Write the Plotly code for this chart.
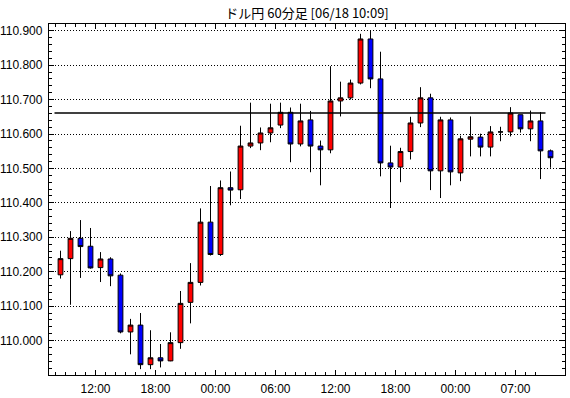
import plotly.graph_objects as go

title_text = "ドル円 60分足 [06/18 10:09]"

times = (["%02d:00" % h for h in range(8, 24)] +
         ["%02d:00" % h for h in range(0, 24)] +
         ["%02d:00" % h for h in range(0, 6)] +
         ["%02d:00" % h for h in range(7, 11)])

opens = [110.191, 110.238, 110.297, 110.274, 110.212, 110.237, 110.190, 110.025, 110.045, 109.930,
         109.950, 109.941, 109.994, 110.111, 110.169, 110.344, 110.250, 110.444, 110.438, 110.565,
         110.574, 110.603, 110.626, 110.663, 110.571, 110.641, 110.565, 110.554, 110.696, 110.705,
         110.748, 110.876, 110.760, 110.516, 110.504, 110.549, 110.632, 110.705, 110.493, 110.641,
         110.487, 110.585, 110.591, 110.562, 110.606, 110.606, 110.656, 110.615, 110.638, 110.551]
highs = [110.261, 110.318, 110.350, 110.327, 110.257, 110.242, 110.195, 110.063, 110.080, 110.030,
         109.990, 110.024, 110.144, 110.225, 110.384, 110.449, 110.465, 110.491, 110.624, 110.691,
         110.619, 110.688, 110.691, 110.677, 110.688, 110.667, 110.581, 110.797, 110.752, 110.758,
         110.891, 110.900, 110.839, 110.566, 110.560, 110.650, 110.736, 110.717, 110.650, 110.648,
         110.595, 110.651, 110.601, 110.623, 110.621, 110.678, 110.656, 110.668, 110.664, 110.555]
lows = [110.180, 110.104, 110.182, 110.209, 110.170, 110.158, 110.021, 109.960, 109.917, 109.917,
        109.922, 109.940, 109.976, 110.050, 110.160, 110.247, 110.246, 110.393, 110.411, 110.559,
        110.553, 110.576, 110.617, 110.518, 110.564, 110.489, 110.451, 110.544, 110.651, 110.700,
        110.744, 110.733, 110.477, 110.385, 110.460, 110.526, 110.620, 110.437, 110.414, 110.451,
        110.463, 110.535, 110.535, 110.535, 110.579, 110.593, 110.604, 110.579, 110.469, 110.502]
closes = [110.238, 110.297, 110.273, 110.211, 110.237, 110.188, 110.025, 110.045, 109.930, 109.950,
          109.941, 109.994, 110.108, 110.169, 110.344, 110.250, 110.444, 110.437, 110.565, 110.574,
          110.603, 110.618, 110.663, 110.571, 110.638, 110.565, 110.554, 110.696, 110.705, 110.748,
          110.876, 110.760, 110.516, 110.504, 110.549, 110.632, 110.705, 110.493, 110.641, 110.490,
          110.586, 110.592, 110.562, 110.606, 110.606, 110.661, 110.615, 110.638, 110.551, 110.531]

tick_labels = ["12:00", "18:00", "00:00", "06:00", "12:00", "18:00", "00:00", "07:00"]
ref_level = 110.661
y_ticks = [110.0, 110.1, 110.2, 110.3, 110.4, 110.5, 110.6, 110.7, 110.8, 110.9]

x = list(range(len(times)))

# find tick positions sequentially in the time list
tick_pos = []
start = 0
for lab in tick_labels:
    for i in range(start, len(times)):
        if times[i] == lab:
            tick_pos.append(i - 0.5)
            start = i + 1
            break

minor_pos = [i - 0.5 for i in x[:-1]]

fig = go.Figure()
fig.add_trace(go.Candlestick(
    x=x, open=opens, high=highs, low=lows, close=closes,
    increasing=dict(line=dict(color="black", width=1), fillcolor="#ff0000"),
    decreasing=dict(line=dict(color="black", width=1), fillcolor="#0000ff"),
    whiskerwidth=0, showlegend=False, hoverinfo="skip",
))

fig.add_shape(type="line", xref="x", yref="y",
              x0=-0.6, x1=48.5, y0=ref_level, y1=ref_level,
              line=dict(color="black", width=1.3))

font_tick = dict(family="Liberation Sans, Arial, sans-serif", size=12, color="black")

fig.update_layout(
    width=570, height=398,
    margin=dict(l=49, r=5, t=24, b=23, pad=0, autoexpand=False),
    paper_bgcolor="white", plot_bgcolor="white",
    title=dict(text=title_text, x=0.5387, xanchor="center", y=0.967, yanchor="middle",
               font=dict(family="Noto Sans CJK JP, sans-serif", size=13, color="black")),
    boxgap=0.32,
    xaxis=dict(
        range=[-1.15, 50.45], rangeslider=dict(visible=False),
        showgrid=False, zeroline=False, automargin=False,
        showline=True, linecolor="black", linewidth=1.3, mirror="ticks",
        ticks="inside", ticklen=5, tickcolor="black", tickwidth=1,
        tickmode="array", tickvals=tick_pos, ticktext=tick_labels,
        tickfont=font_tick, ticklabelstandoff=2,
        minor=dict(tickmode="array", tickvals=minor_pos, ticks="inside",
                   ticklen=3, tickcolor="black", tickwidth=1, showgrid=False),
    ),
    yaxis=dict(
        range=[109.9, 110.9195],
        showgrid=True, gridcolor="black", griddash="1px,2px", gridwidth=1,
        zeroline=False, automargin=False,
        showline=True, linecolor="black", linewidth=1.3, mirror="ticks",
        ticks="inside", ticklen=5, tickcolor="black", tickwidth=1,
        tickmode="array", tickvals=y_ticks, ticktext=["%.3f" % v for v in y_ticks],
        tickfont=font_tick, ticklabelstandoff=3,
        minor=dict(dtick=0.02, tick0=110.0, ticks="inside", ticklen=3,
                   tickcolor="black", tickwidth=1, showgrid=False),
    ),
)

fig.write_html("out.html", config={"displayModeBar": False},
               post_script="document.body.style.margin='0px';")
